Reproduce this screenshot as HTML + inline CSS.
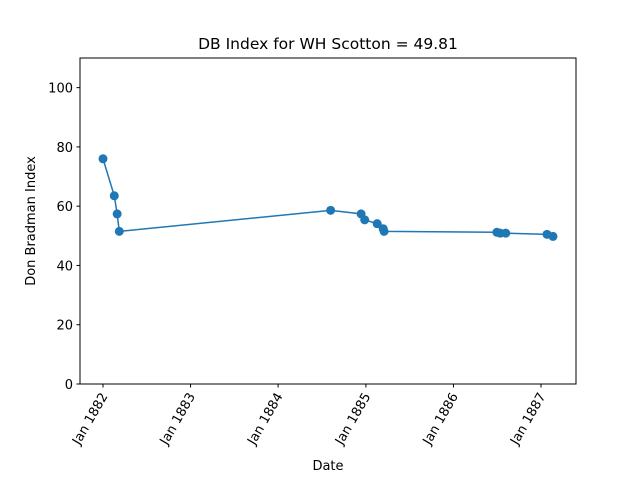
<!DOCTYPE html>
<html><head><meta charset="utf-8"><style>body{margin:0;background:#fff}svg{display:block;font-family:"DejaVu Sans","Liberation Sans",sans-serif}</style></head>
<body>
<svg id="c" width="640" height="480" viewBox="0 0 640 480"></svg>
<script>
const dates=["1882-01-01","1882-02-17","1882-03-01","1882-03-10","1884-08-07","1884-12-12","1884-12-27","1885-02-17","1885-03-14","1885-03-18","1886-07-01","1886-07-15","1886-08-07","1887-01-26","1887-02-20"];
const values=[76,63.5,57.4,51.5,58.6,57.4,55.4,54.1,52.4,51.5,51.2,50.9,50.9,50.5,49.81];
const xTickLabels=["Jan 1882","Jan 1883","Jan 1884","Jan 1885","Jan 1886","Jan 1887"];
const xTickDates=["1882-01-01","1883-01-01","1884-01-01","1885-01-01","1886-01-01","1887-01-01"];
const yTicks=[0,20,40,60,80,100];
const svg=document.getElementById('c');const NS='http://www.w3.org/2000/svg';
const L=80,R=576,T=58,B=384;
const t0=Date.parse("1882-01-01"),t1=Date.parse("1887-01-01");
function xs(d){return 103+(Date.parse(d)-t0)/(t1-t0)*438;}
function ys(v){return B-v/110*(B-T);}
function mk(tag,a,txt){const e=document.createElementNS(NS,tag);for(const k in a)e.setAttribute(k,a[k]);if(txt!=null)e.textContent=txt;svg.appendChild(e);return e;}
let e=mk('rect',{x:L,y:T,width:R-L,height:B-T,fill:'none',stroke:'#000','stroke-width':1});


yTicks.forEach(v=>{const y=ys(v);
let t=mk('line',{x1:L-3.5,x2:L,y1:y,y2:y,stroke:'#000'});


let l=mk('text',{x:L-7,y:y+5,'text-anchor':'end','font-size':'13px'},v);

});
xTickDates.forEach((d,i)=>{const x=xs(d);
let t=mk('line',{x1:x,x2:x,y1:B,y2:B+3.5,stroke:'#000'});


let l=mk('text',{x:0,y:0,'text-anchor':'end','font-size':'13px',transform:`translate(${x+5},${B+12}) rotate(-60)`},xTickLabels[i]);

});
const pts=dates.map((d,i)=>xs(d)+','+ys(values[i])).join(' ');
let pl=mk('polyline',{points:pts,fill:'none',stroke:'#1f77b4','stroke-width':1.5});


dates.forEach((d,i)=>{let c=mk('circle',{cx:xs(d),cy:ys(values[i]),r:4.5,fill:'#1f77b4'});

});
let ti=mk('text',{x:328,y:49,'text-anchor':'middle','font-size':'15.5px'},'DB Index for WH Scotton = 49.81');


let xt=mk('text',{x:328,y:470,'text-anchor':'middle','font-size':'13px'},'Date');


let yt=mk('text',{x:0,y:0,'text-anchor':'middle','font-size':'13px',transform:'translate(35,221) rotate(-90)'},'Don Bradman Index');


</script>
</body></html>
